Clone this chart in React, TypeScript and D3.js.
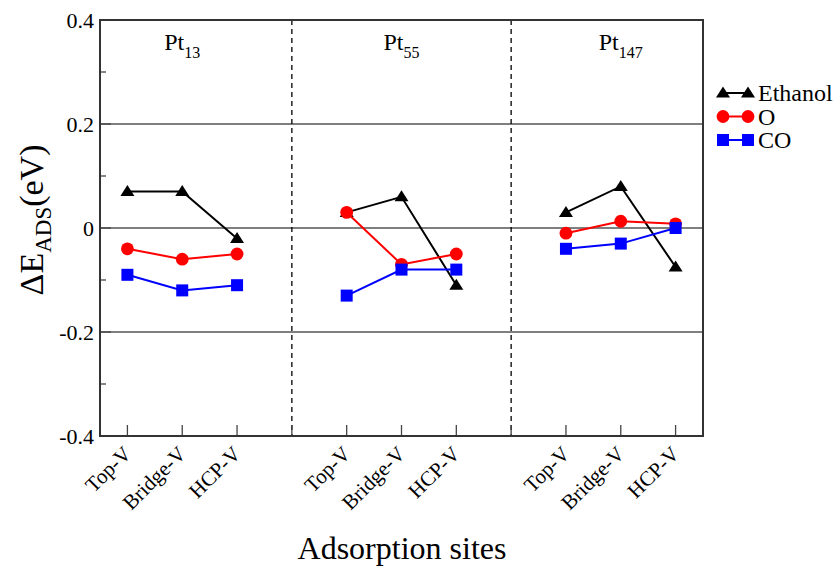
import React from "react";
import * as d3 from "d3";

// sites per cluster (eV)
const clusters = ["13", "55", "147"];
const sites = ["Top-V", "Bridge-V", "HCP-V"];
const ethanol = [0.07, 0.07, -0.02, 0.03, 0.06, -0.11, 0.03, 0.08, -0.075];
const oxygen = [-0.04, -0.06, -0.05, 0.03, -0.07, -0.05, -0.01, 0.013, 0.008];
const co = [-0.09, -0.12, -0.11, -0.13, -0.08, -0.08, -0.04, -0.03, 0.0];
const yTicks = [-0.4, -0.2, 0, 0.2, 0.4];
const yMinor = [-0.3, -0.1, 0.1, 0.3];

const W = 839, H = 567;
const m = { left: 100, top: 20, right: 703, bottom: 436 };
const font = "'Liberation Serif', 'Times New Roman', serif";

// position index: cluster c, site s -> 4*c + s + 0.5
const pos = (i: number) => Math.floor(i / 3) * 4 + (i % 3) + 0.5;

const series = [
  { name: "Ethanol", data: ethanol, color: "#000000", marker: "tri" },
  { name: "O", data: oxygen, color: "#ff0000", marker: "circ" },
  { name: "CO", data: co, color: "#0000ff", marker: "sq" },
];

function Marker({ type, x, y, color }: { type: string; x: number; y: number; color: string }) {
  if (type === "tri") {
    return <path d={`M${x},${y - 6.5}L${x + 7},${y + 4.5}L${x - 7},${y + 4.5}Z`} fill={color} />;
  }
  if (type === "circ") return <circle cx={x} cy={y} r={6.4} fill={color} />;
  return <rect x={x - 6} y={y - 6} width={12} height={12} fill={color} />;
}

export default function App() {
  const x = d3.scaleLinear().domain([0, 11]).range([m.left, m.right]);
  const y = d3.scaleLinear().domain([-0.4, 0.4]).range([m.bottom, m.top]);

  const idx = d3.range(9);
  const line = (vals: number[]) =>
    d3.line<number>().x((i) => x(pos(i))).y((i) => y(vals[i]));

  return (
    <svg width={W} height={H} style={{ position: "absolute", left: 0, top: 0, fontFamily: font }}>
      <rect width={W} height={H} fill="#fff" />

      {/* grid lines */}
      {[-0.2, 0, 0.2].map((t) => (
        <line key={t} x1={m.left} x2={m.right} y1={y(t)} y2={y(t)} stroke="#555" strokeWidth={1.5} />
      ))}
      {/* cluster separators */}
      {[3.5, 7.5].map((p) => (
        <line key={p} x1={x(p)} x2={x(p)} y1={m.top} y2={m.bottom} stroke="#000" strokeWidth={1.3} strokeDasharray="5,4" />
      ))}

      {/* y ticks */}
      {yTicks.map((t) => (
        <g key={t}>
          <line x1={m.left} x2={m.left + 11} y1={y(t)} y2={y(t)} stroke="#444" strokeWidth={1.3} />
          <text x={m.left - 6} y={y(t)} dy="0.35em" textAnchor="end" fontSize={22}>
            {t === 0 ? "0" : t.toFixed(1)}
          </text>
        </g>
      ))}
      {yMinor.map((t) => (
        <line key={t} x1={m.left} x2={m.left + 6} y1={y(t)} y2={y(t)} stroke="#444" strokeWidth={1.3} />
      ))}

      {/* x ticks */}
      {idx.map((i) => (
        <g key={i}>
          <line x1={x(pos(i))} x2={x(pos(i))} y1={m.bottom} y2={m.bottom - 11} stroke="#444" strokeWidth={1.3} />
          <text
            transform={`translate(${x(pos(i)) + 5},${m.bottom + 19}) rotate(-45)`}
            textAnchor="end"
            fontSize={21}
          >
            {sites[i % 3]}
          </text>
        </g>
      ))}
      {[3.5, 7.5].map((p) => (
        <line key={p} x1={x(p)} x2={x(p)} y1={m.bottom} y2={m.bottom - 11} stroke="#444" strokeWidth={1.3} />
      ))}

      {/* frame */}
      <rect x={m.left} y={m.top} width={m.right - m.left} height={m.bottom - m.top} fill="none" stroke="#333" strokeWidth={2} />

      {/* cluster labels */}
      {clusters.map((c, k) => (
        <text key={c} x={x(k * 4 + 1.5)} y={50} textAnchor="middle" fontSize={24}>
          Pt
          <tspan fontSize={16} dy={8}>{c}</tspan>
        </text>
      ))}

      {/* series */}
      {series.map((s) => (
        <g key={s.name}>
          {clusters.map((c, k) => (
            <path
              key={c}
              d={line(s.data)([k * 3, k * 3 + 1, k * 3 + 2]) || ""}
              fill="none"
              stroke={s.color}
              strokeWidth={2}
            />
          ))}
          {idx.map((i) => (
            <Marker key={i} type={s.marker} x={x(pos(i))} y={y(s.data[i])} color={s.color} />
          ))}
        </g>
      ))}

      {/* legend */}
      {series.map((s, k) => {
        const ly = 93 + k * 23.5;
        return (
          <g key={s.name}>
            <line x1={723} x2={748} y1={ly} y2={ly} stroke={s.color} strokeWidth={2} />
            <Marker type={s.marker} x={723} y={ly} color={s.color} />
            <Marker type={s.marker} x={748} y={ly} color={s.color} />
            <text x={758} y={ly} dy="0.35em" fontSize={24}>{s.name}</text>
          </g>
        );
      })}

      {/* axis titles */}
      <text transform={`translate(43,220) rotate(-90)`} textAnchor="middle" fontSize={34}>
        ΔE<tspan fontSize={23} dy={8}>ADS</tspan><tspan dy={-8}>(eV)</tspan>
      </text>
      <text x={402} y={559} textAnchor="middle" fontSize={32}>Adsorption sites</text>
    </svg>
  );
}
